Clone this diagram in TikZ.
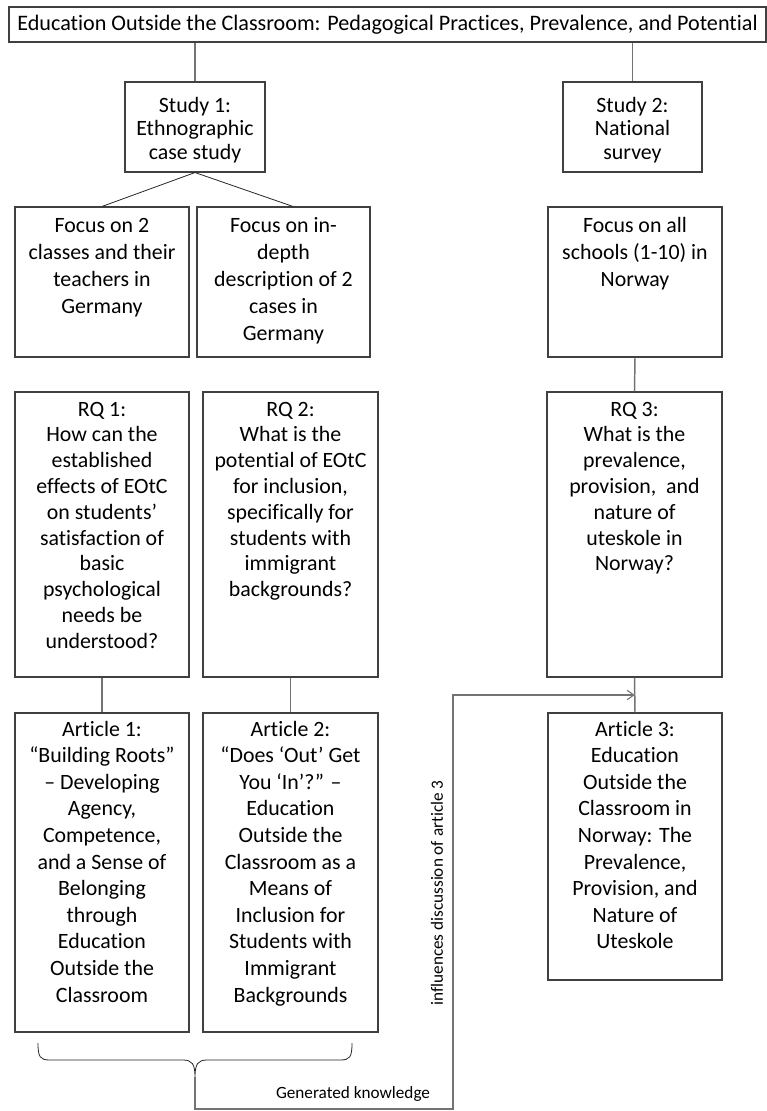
\documentclass[tikz,border=0pt]{standalone}
\usepackage{fontspec}
\setmainfont{Carlito}[Ligatures={NoCommon}]
\usetikzlibrary{calc,arrows.meta}
\newlength\px \setlength\px{0.75pt}
% #1 width, #2 height, #3 first baseline offset, #4 baselineskip (px), #5 text
\newcommand\bx[5]{\parbox[c][#2\px][t]{#1\px}{\centering\fontsize{16.4pt}{#4\px}\selectfont\vspace*{\dimexpr#3\px-0.7\baselineskip\relax}\strut #5\par}}
\begin{document}
\begin{tikzpicture}[x=0.75pt,y=-0.75pt,
  box/.style={draw=black!75, line width=0.8pt, inner sep=0pt, fill=white},
  conn/.style={draw=black!55, line width=1.1pt},
  fine/.style={draw=black!85, line width=0.6pt},
  flow/.style={draw=black!55, line width=0.8pt},
  lbl/.style={inner sep=0pt}]
\useasboundingbox (0,0) rectangle (767,1111);

\node[box, minimum width=757\px, minimum height=35\px, font=\fontsize{16.6pt}{19pt}\selectfont] (title) at (387.5,24.5)
  {Education Outside the Classroom: Pedagogical Practices, Prevalence, and Potential};

\node[box] (s1) at (195,127) {\bx{140}{90}{30}{23.5}{Study 1:\\Ethnographic\\case study}};
\node[box] (s2) at (632.5,127) {\bx{139}{90}{30}{23.5}{Study 2:\\National\\survey}};

\node[box] (f1) at (102,282) {\bx{174}{150}{25}{27}{Focus on 2\\classes and their\\teachers in\\Germany}};
\node[box] (f2) at (283.5,282) {\bx{173}{150}{25}{27}{Focus on in-\\depth\\description of 2\\cases in\\Germany}};
\node[box] (f3) at (635,282) {\bx{174}{150}{25}{27}{Focus on all\\schools (1-10) in\\Norway}};

\node[box] (rq1) at (102,534.5) {\bx{174}{285}{24}{25.8}{RQ 1:\\How can the\\established\\effects of EOtC\\on students’\\satisfaction of\\basic\\psychological\\needs be\\understood?}};
\node[box] (rq2) at (290.5,534.5) {\bx{175}{285}{24}{25.8}{RQ 2:\\What is the\\potential of EOtC\\for inclusion,\\specifically for\\students with\\immigrant\\backgrounds?}};
\node[box] (rq3) at (634.5,534.5) {\bx{175}{285}{24}{25.8}{RQ 3:\\What is the\\prevalence,\\provision,\ \ and\\nature of\\uteskole in\\Norway?}};

\node[box] (a1) at (102,872.5) {\bx{174}{319}{23}{26.6}{Article 1:\\“Building Roots”\\– Developing\\Agency,\\Competence,\\and a Sense of\\Belonging\\through\\Education\\Outside the\\Classroom}};
\node[box] (a2) at (290.5,872.5) {\bx{175}{319}{23}{26.6}{Article 2:\\“Does ‘Out’ Get\\You ‘In’?” –\\Education\\Outside the\\Classroom as a\\Means of\\Inclusion for\\Students with\\Immigrant\\Backgrounds}};
\node[box] (a3) at (635,846.5) {\bx{174}{267}{23}{26.6}{Article 3:\\Education\\Outside the\\Classroom in\\Norway: The\\Prevalence,\\Provision, and\\Nature of\\Uteskole}};

% connectors
\draw[conn] (title.south -| s1.north) -- (s1.north);
\draw[conn] (title.south -| s2.north) -- (s2.north);
\draw[fine] (s1.south) -- (f1.north);
\draw[fine] (s1.south) -- ($(f2.north)+(9.5,0)$);
\draw[conn] (f3.south) -- (rq3.north);
\draw[conn] (rq1.south) -- (a1.north);
\draw[conn] (rq2.south) -- (a2.north);
\draw[conn] (rq3.south) -- (a3.north);

% brace under the two articles
\coordinate (bt) at (195,1077);
\draw[fine] (38,1043) .. controls (38,1057) and (40,1060) .. (50,1060) -- (183,1060)
  .. controls (192,1060) and (195,1064) .. (bt)
  .. controls (195,1064) and (198,1060) .. (207,1060) -- (340,1060)
  .. controls (350,1060) and (352,1057) .. (352,1043);

% flow to article 3
\coordinate (g) at (453,1109);
\coordinate (m3) at ($(rq3.south)!0.5!(a3.north)$);
\draw[flow, -{Straight Barb[length=5pt,width=7pt]}] (bt) |- (g) |- (m3);

\node[lbl, font=\fontsize{12.9pt}{15pt}\selectfont] (gk) at (353,1094) {Generated knowledge};
\node[lbl, rotate=90, font=\fontsize{12.9pt}{15pt}\selectfont] (inf) at (437,893) {influences discussion of article 3};
\end{tikzpicture}
\end{document}
